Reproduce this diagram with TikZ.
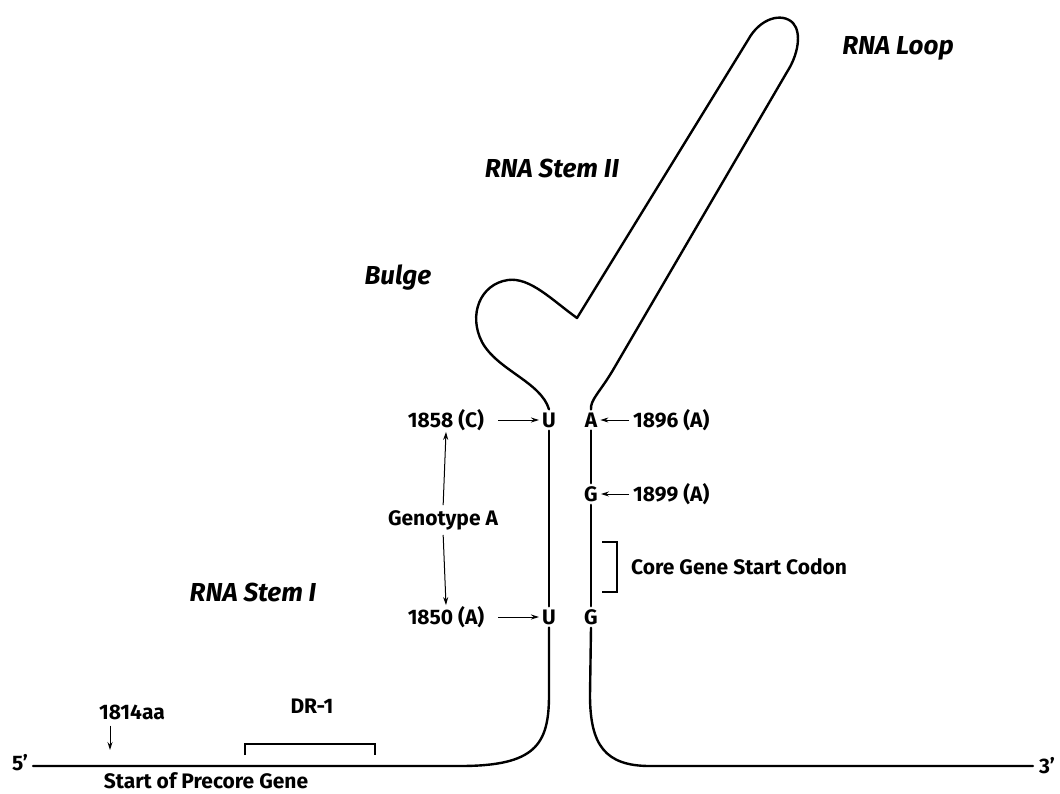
\documentclass[tikz,border=0pt]{standalone}
\usepackage{fontspec}
\setmainfont{Fira Sans}
\usetikzlibrary{arrows.meta}
\begin{document}
\begin{tikzpicture}[x=1pt,y=-1pt,
  strand/.style={line width=2.4pt, line cap=round, line join=round},
  lbl/.style={font=\bfseries\fontsize{21}{23}\selectfont, inner sep=1pt},
  nuc/.style={font=\bfseries\fontsize{21}{23}\selectfont, inner sep=3pt},
  big/.style={font=\bfseries\itshape\fontsize{26}{29}\selectfont, inner sep=1pt},
  arr/.style={line width=1pt, -{Stealth[length=8pt,width=5pt]}},
  brk/.style={line width=1.5pt}]
\useasboundingbox (0,0) rectangle (1060,793);
% nucleotide letters
\node[nuc] (U1) at (549,420) {U};
\node[nuc] (U2) at (549,617) {U};
\node[nuc] (A1) at (591,420) {A};
\node[nuc] (G1) at (591,494) {G};
\node[nuc] (G2) at (591,617) {G};
% ends
\node[lbl] (five) at (20,763) {5'};
\node[lbl] (three) at (1047,766) {3'};
\coordinate (L0) at (33,766);
\coordinate (R0) at (1033,766);
% strand
\draw[strand] (L0) -- (460,766) .. controls (535,766) and (549,745) .. (549,695) -- (U2.south);
\draw[strand] (U1.south) -- (U2.north);
\draw[strand] (A1.south) -- (G1.north);
\draw[strand] (G1.south) -- (G2.north);
\draw[strand] (G2.south) -- (590,695) .. controls (590,745) and (605,766) .. (650,766) -- (R0);
\draw[strand] (U1.north) .. controls (541,382) and (497,370) .. (482,342)
  .. controls (468,315) and (480,284) .. (508,280)
  .. controls (530,277) and (552,300) .. (577,318)
  -- (748,40) .. controls (760,18) and (782,12) .. (793,23)
  .. controls (802,33) and (798,55) .. (787,72)
  -- (613,370) .. controls (600,392) and (590,400) .. (A1.north);
% labels
\node[lbl] (l1858) at (446,420) {1858 (C)};
\node[lbl] (l1850) at (446,617) {1850 (A)};
\node[lbl, anchor=west] (l1896) at (632,420) {1896 (A)};
\node[lbl, anchor=west] (l1899) at (632,494) {1899 (A)};
\node[lbl] (geno) at (443,520) {Genotype A};
\node[lbl, anchor=west] (core) at (630,567) {Core Gene Start Codon};
\node[big] (stem1) at (253,592) {RNA Stem I};
\node[big] (bulge) at (398,278) {Bulge};
\node[big] (stem2) at (552,168) {RNA Stem II};
\node[big] (loop) at (898,48) {RNA Loop};
\node[lbl] (l1814) at (132,712) {1814aa};
\node[lbl] (dr1) at (312,706) {DR-1};
\node[lbl] (precore) at (206,781) {Start of Precore Gene};
% arrows
\draw[arr, shorten <=13pt] (l1858.east) -- (U1.west);
\draw[arr, shorten <=13pt] (l1850.east) -- (U2.west);
\draw[arr, shorten <=3pt] (l1896.west) -- (A1.east);
\draw[arr, shorten <=3pt] (l1899.west) -- (G1.east);
\draw[arr, shorten <=4pt] (geno.north) -- (l1858.south);
\draw[arr, shorten <=4pt] (geno.south) -- (l1850.north);
\coordinate (p1814) at (110,750);
\draw[arr, shorten <=5pt] (l1814.south -| p1814) -- (p1814);
% brackets
\coordinate (dra) at (245,755);
\coordinate (drb) at (375,755);
\draw[brk] (dra) -- ++(0,-11) -| (drb);
\coordinate (cba) at (602,542);
\coordinate (cbb) at (602,592);
\draw[brk] (cba) -- ++(15,0) |- (cbb);
\end{tikzpicture}
\end{document}
